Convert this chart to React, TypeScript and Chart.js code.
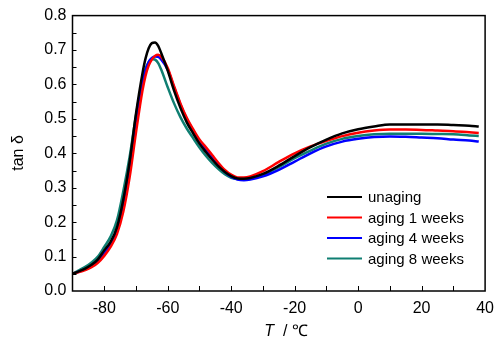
import React, { useEffect, useRef } from "react";
import { Chart, registerables } from "chart.js";

Chart.register(...registerables);

const temperature = [-90, -88, -86, -84, -82, -80, -78, -76, -74, -72, -70, -68, -67, -66, -65, -64, -63, -62, -60, -58, -56, -54, -52, -50, -48, -46, -44, -42, -40, -38, -36, -34, -30, -25, -20, -15, -10, -5, 0, 5, 10, 15, 20, 25, 30, 35, 38];

const unaging = [0.05, 0.057, 0.065, 0.076, 0.092, 0.118, 0.143, 0.185, 0.265, 0.375, 0.515, 0.63, 0.675, 0.705, 0.72, 0.722, 0.712, 0.69, 0.64, 0.582, 0.532, 0.49, 0.458, 0.428, 0.404, 0.382, 0.362, 0.346, 0.334, 0.327, 0.326, 0.328, 0.34, 0.364, 0.392, 0.418, 0.44, 0.458, 0.47, 0.478, 0.484, 0.484, 0.484, 0.484, 0.482, 0.48, 0.478];
const aging1 = [0.05, 0.055, 0.061, 0.069, 0.082, 0.102, 0.128, 0.165, 0.23, 0.33, 0.46, 0.58, 0.625, 0.655, 0.672, 0.683, 0.686, 0.68, 0.648, 0.595, 0.545, 0.503, 0.47, 0.44, 0.418, 0.395, 0.372, 0.352, 0.338, 0.33, 0.33, 0.333, 0.348, 0.375, 0.4, 0.42, 0.436, 0.45, 0.46, 0.466, 0.469, 0.469, 0.468, 0.466, 0.464, 0.461, 0.459];
const aging4 = [0.05, 0.056, 0.063, 0.072, 0.086, 0.11, 0.136, 0.175, 0.248, 0.352, 0.485, 0.6, 0.64, 0.665, 0.677, 0.681, 0.68, 0.672, 0.643, 0.592, 0.542, 0.5, 0.466, 0.436, 0.412, 0.388, 0.366, 0.346, 0.332, 0.324, 0.322, 0.324, 0.333, 0.352, 0.376, 0.4, 0.42, 0.434, 0.442, 0.447, 0.449, 0.448, 0.446, 0.444, 0.44, 0.437, 0.434];
const aging8 = [0.05, 0.06, 0.07, 0.083, 0.1, 0.128, 0.158, 0.205, 0.29, 0.39, 0.51, 0.61, 0.645, 0.665, 0.674, 0.672, 0.662, 0.642, 0.592, 0.545, 0.505, 0.472, 0.444, 0.417, 0.393, 0.372, 0.354, 0.339, 0.329, 0.325, 0.324, 0.326, 0.338, 0.36, 0.386, 0.408, 0.428, 0.442, 0.45, 0.455, 0.457, 0.457, 0.457, 0.456, 0.455, 0.452, 0.45];

const seriesLabels = ["unaging", "aging 1 weeks", "aging 4 weeks", "aging 8 weeks"];
const seriesColors = ["#000000", "#ff0000", "#0000ff", "#0f7f72"];
const xTickValues = [-80, -60, -40, -20, 0, 20, 40];
const yTickValues = [0, 0.1, 0.2, 0.3, 0.4, 0.5, 0.6, 0.7, 0.8];

const FONT = "'Liberation Sans', Arial, sans-serif";

const framePlugin = {
  id: "frame",
  afterDraw(chart: any) {
    const { ctx, chartArea, scales } = chart;
    const { left, right, top, bottom } = chartArea;
    ctx.save();
    ctx.strokeStyle = "#000";
    ctx.lineWidth = 1.5;
    ctx.strokeRect(left, top, right - left, bottom - top);
    ctx.lineWidth = 1;
    for (let v = -80; v < 40; v += 10) {
      const px = Math.round(scales.x.getPixelForValue(v)) + 0.5;
      ctx.beginPath();
      ctx.moveTo(px, bottom);
      ctx.lineTo(px, bottom - 5);
      ctx.stroke();
    }
    for (let i = 1; i < 16; i++) {
      const py = Math.round(scales.y.getPixelForValue(i * 0.05)) + 0.5;
      ctx.beginPath();
      ctx.moveTo(left, py);
      ctx.lineTo(left + 4, py);
      ctx.stroke();
    }
    // legend
    ctx.font = `15px ${FONT}`;
    ctx.textBaseline = "middle";
    ctx.textAlign = "left";
    const rows = [197, 217.5, 238, 258.5];
    chart.data.datasets.forEach((ds: any, i: number) => {
      ctx.strokeStyle = ds.borderColor;
      ctx.lineWidth = 2.2;
      ctx.beginPath();
      ctx.moveTo(327, rows[i]);
      ctx.lineTo(362, rows[i]);
      ctx.stroke();
      ctx.fillStyle = "#000";
      ctx.fillText(ds.label, 368, rows[i] + 1);
    });
    // axis titles
    ctx.fillStyle = "#000";
    ctx.textBaseline = "alphabetic";
    const t1 = "T";
    const rest = "  / \u2103";
    ctx.font = `italic 16px ${FONT}`;
    const w1 = ctx.measureText(t1).width;
    ctx.font = `16px ${FONT}`;
    const w2 = ctx.measureText(rest).width;
    const startX = 286 - (w1 + w2) / 2;
    ctx.font = `italic 16px ${FONT}`;
    ctx.fillText(t1, startX, 336);
    ctx.font = `16px ${FONT}`;
    ctx.fillText(rest, startX + w1, 336);
    ctx.save();
    ctx.translate(23, 153);
    ctx.rotate(-Math.PI / 2);
    ctx.textAlign = "center";
    ctx.font = `16px ${FONT}`;
    ctx.fillText("tan \u03b4", 0, 0);
    ctx.restore();
    ctx.restore();
  },
};

export default function App() {
  const ref = useRef<HTMLCanvasElement>(null);
  useEffect(() => {
    document.body.style.margin = "0";
    const series = [unaging, aging1, aging4, aging8];
    const chart = new Chart(ref.current!, {
      type: "line",
      data: {
        datasets: series.map((s, i) => ({
          label: seriesLabels[i],
          data: temperature.map((t, j) => ({ x: t, y: s[j] })),
          borderColor: seriesColors[i],
          backgroundColor: seriesColors[i],
          borderWidth: 2.5,
          pointRadius: 0,
          cubicInterpolationMode: "monotone" as const,
          fill: false,
        })),
      },
      options: {
        animation: false,
        responsive: false,
        layout: { padding: { top: 15, right: 7, left: 0, bottom: 0 } },
        plugins: { legend: { display: false }, tooltip: { enabled: false } },
        scales: {
          x: {
            type: "linear",
            min: -90,
            max: 40,
            grid: { display: false, drawTicks: false },
            border: { display: false },
            afterBuildTicks: (s: any) => {
              s.ticks = xTickValues.map((v) => ({ value: v }));
            },
            afterFit: (s: any) => {
              s.height = 48;
            },
            ticks: {
              padding: 8,
              color: "#000",
              font: { family: FONT, size: 16 },
              maxRotation: 0,
              autoSkip: false,
            },
          },
          y: {
            type: "linear",
            min: 0,
            max: 0.8,
            grid: { display: false, drawTicks: false },
            border: { display: false },
            afterBuildTicks: (s: any) => {
              s.ticks = yTickValues.map((v) => ({ value: v }));
            },
            afterFit: (s: any) => {
              s.width = 72.5;
            },
            ticks: {
              padding: 6,
              color: "#000",
              font: { family: FONT, size: 16 },
              callback: (v: any) => Number(v).toFixed(1),
            },
          },
        },
      },
      plugins: [framePlugin],
    });
    return () => chart.destroy();
  }, []);
  return (
    <div style={{ position: "absolute", left: 0, top: 0, width: 502, height: 339 }}>
      <canvas ref={ref} width={502} height={339} style={{ width: 502, height: 339 }} />
    </div>
  );
}
